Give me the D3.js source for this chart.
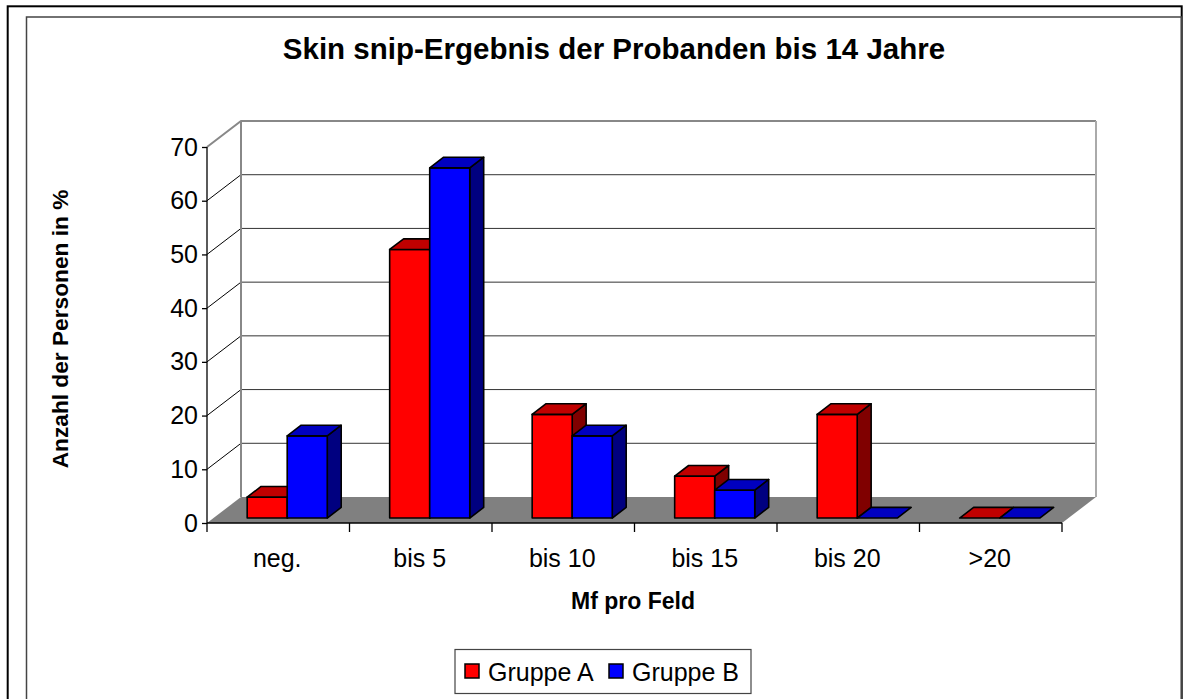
<!DOCTYPE html>
<html>
<head>
<meta charset="utf-8">
<script src="https://cdn.jsdelivr.net/npm/d3@7"></script>
<style>
  body { margin: 0; background: #fff; }
  text { font-family: Arial, "Liberation Sans", sans-serif; }
</style>
</head>
<body>
<div id="chart"></div>
<script>
// Data
const categories = ['neg.', 'bis 5', 'bis 10', 'bis 15', 'bis 20', '>20']
const groups = ['Gruppe A', 'Gruppe B']
const gruppeA = [3.9, 50, 19.3, 7.8, 19.3, 0]
const gruppeB = [15.3, 65.2, 15.3, 5.2, 0, 0]
const yTicks = [0, 10, 20, 30, 40, 50, 60, 70]

const colors = {
  'Gruppe A': { front: '#ff0000', top: '#c00000', side: '#800000' },
  'Gruppe B': { front: '#0000ff', top: '#0000c0', side: '#000080' }
}

const dataset = categories.map((c, i) => ({
  cat: c,
  values: [
    { group: 'Gruppe A', value: gruppeA[i] },
    { group: 'Gruppe B', value: gruppeB[i] }
  ]
}))

// Dimensions
const width = 1201
const height = 699
const plot = { left: 207, right: 1062, top: 147, bottom: 523 }
const depth = { dx: 34, dy: 26 }   // 3d offset of the back wall
const barZ = [0.19, 0.6]           // front / back of the bars, as part of depth

const svg = d3.select('#chart')
  .append('svg')
  .attr('width', width)
  .attr('height', height)

// Frames
svg.append('rect')
  .attr('x', 7.7).attr('y', 6.3)
  .attr('width', 1174).attr('height', 800)
  .attr('fill', 'none').attr('stroke', '#000').attr('stroke-width', 2)

svg.append('rect')
  .attr('x', 26.5).attr('y', 17)
  .attr('width', 1155).attr('height', 800)
  .attr('fill', 'none').attr('stroke', '#444').attr('stroke-width', 1.5)

// Scales
const xScale = d3.scaleBand()
  .domain(categories)
  .range([plot.left, plot.right])

const yScale = d3.scaleLinear()
  .domain([0, 70])
  .range([plot.bottom, plot.top])

// projection of (front x, value, depth 0..1) to the screen
const proj = (x, v, z) => [x + depth.dx * z, yScale(v) - depth.dy * z]
const poly = pts => 'M' + pts.map(p => p.join(',')).join('L') + 'Z'

// Floor
svg.append('path')
  .attr('d', poly([proj(plot.left, 0, 0), proj(plot.right, 0, 0), proj(plot.right, 0, 1), proj(plot.left, 0, 1)]))
  .attr('fill', '#808080')

// Gridlines on the back wall and side wall
const grid = svg.append('g')
yTicks.filter(t => t > 0 && t < 70).forEach(t => {
  grid.append('line')
    .attr('x1', proj(plot.left, t, 1)[0]).attr('y1', proj(plot.left, t, 1)[1])
    .attr('x2', proj(plot.right, t, 1)[0]).attr('y2', proj(plot.right, t, 1)[1])
    .attr('stroke', '#333').attr('stroke-width', 1)
  grid.append('line')
    .attr('x1', proj(plot.left, t, 0)[0]).attr('y1', proj(plot.left, t, 0)[1])
    .attr('x2', proj(plot.left, t, 1)[0]).attr('y2', proj(plot.left, t, 1)[1])
    .attr('stroke', '#000').attr('stroke-width', 1)
})

// Wall edges
svg.append('path')
  .attr('d', 'M' + [proj(plot.left, 70, 0), proj(plot.left, 70, 1), proj(plot.right, 70, 1)].map(p => p.join(',')).join('L'))
  .attr('fill', 'none').attr('stroke', '#888').attr('stroke-width', 2)
svg.append('line')
  .attr('x1', proj(plot.left, 0, 1)[0]).attr('y1', proj(plot.left, 0, 1)[1])
  .attr('x2', proj(plot.left, 70, 1)[0]).attr('y2', proj(plot.left, 70, 1)[1])
  .attr('stroke', '#888').attr('stroke-width', 2)
svg.append('line')
  .attr('x1', proj(plot.right, 0, 1)[0]).attr('y1', proj(plot.right, 0, 1)[1])
  .attr('x2', proj(plot.right, 70, 1)[0]).attr('y2', proj(plot.right, 70, 1)[1])
  .attr('stroke', '#aaa').attr('stroke-width', 2)

// Bars
const bw = xScale.bandwidth()
const barW = bw * 0.281
const bars = svg.append('g')

dataset.forEach(d => {
  d.values.forEach((b, j) => {
    const xl = xScale(d.cat) + bw / 2 - barW + 2.5 + j * barW
    const xr = xl + barW
    const c = colors[b.group]
    const [z0, z1] = barZ
    const v = b.value
    const g = bars.append('g')
      .attr('stroke', '#000').attr('stroke-width', 1.6).attr('stroke-linejoin', 'round')
    if (v > 0) {
      g.append('path')
        .attr('d', poly([proj(xr, 0, z0), proj(xr, 0, z1), proj(xr, v, z1), proj(xr, v, z0)]))
        .attr('fill', c.side)
      g.append('path')
        .attr('d', poly([proj(xl, 0, z0), proj(xr, 0, z0), proj(xr, v, z0), proj(xl, v, z0)]))
        .attr('fill', c.front)
    }
    g.append('path')
      .attr('d', poly([proj(xl, v, z0), proj(xr, v, z0), proj(xr, v, z1), proj(xl, v, z1)]))
      .attr('fill', c.top)
  })
})

// Axes
const yAxis = d3.axisLeft(yScale)
  .tickValues(yTicks)
  .tickSize(5)
  .tickPadding(4)

const yAxisGroup = svg.append('g')
  .attr('transform', `translate(${plot.left},0)`)
  .call(yAxis)
yAxisGroup.select('.domain').attr('stroke', '#000').attr('stroke-width', 1.3).attr('d', `M0,${plot.top}V${plot.bottom}`)
yAxisGroup.selectAll('.tick line').attr('stroke', '#000').attr('stroke-width', 1.3)
yAxisGroup.selectAll('.tick text')
  .attr('font-size', 25).attr('fill', '#000')
  .style('font-family', 'Arial, "Liberation Sans", sans-serif')

const xAxisGroup = svg.append('g')
  .attr('transform', `translate(0,${plot.bottom})`)
xAxisGroup.append('line')
  .attr('x1', plot.left).attr('x2', plot.right)
  .attr('stroke', '#000').attr('stroke-width', 1.3)
xAxisGroup.selectAll('.tk')
  .data(categories.concat(['end']))
  .join('line')
  .attr('x1', (d, i) => plot.left + i * bw)
  .attr('x2', (d, i) => plot.left + i * bw)
  .attr('y1', 0).attr('y2', 9)
  .attr('stroke', '#000').attr('stroke-width', 1.3)
xAxisGroup.selectAll('.lbl')
  .data(categories)
  .join('text')
  .attr('x', d => xScale(d) + bw / 2 - 1)
  .attr('y', 44)
  .attr('text-anchor', 'middle')
  .attr('font-size', 25)
  .text(d => d)

// Titles
svg.append('text')
  .attr('x', 614).attr('y', 59)
  .attr('text-anchor', 'middle')
  .attr('font-size', 29.5).attr('font-weight', 'bold')
  .text('Skin snip-Ergebnis der Probanden bis 14 Jahre')

svg.append('text')
  .attr('x', 633).attr('y', 609)
  .attr('text-anchor', 'middle')
  .attr('font-size', 23).attr('font-weight', 'bold')
  .text('Mf pro Feld')

svg.append('text')
  .attr('transform', 'translate(68,329) rotate(-90)')
  .attr('text-anchor', 'middle')
  .attr('font-size', 22.7).attr('font-weight', 'bold')
  .text('Anzahl der Personen in %')

// Legend
const legend = svg.append('g')
legend.append('rect')
  .attr('x', 455).attr('y', 649.5)
  .attr('width', 296).attr('height', 44)
  .attr('fill', '#fff').attr('stroke', '#444').attr('stroke-width', 1.2)

const legendX = [465, 609]
groups.forEach((gname, i) => {
  legend.append('rect')
    .attr('x', legendX[i]).attr('y', 664)
    .attr('width', 14).attr('height', 14)
    .attr('fill', colors[gname].front)
    .attr('stroke', '#000').attr('stroke-width', 1.5)
  legend.append('text')
    .attr('x', legendX[i] + 23).attr('y', 681)
    .attr('font-size', 25)
    .text(gname)
})
</script>
</body>
</html>
